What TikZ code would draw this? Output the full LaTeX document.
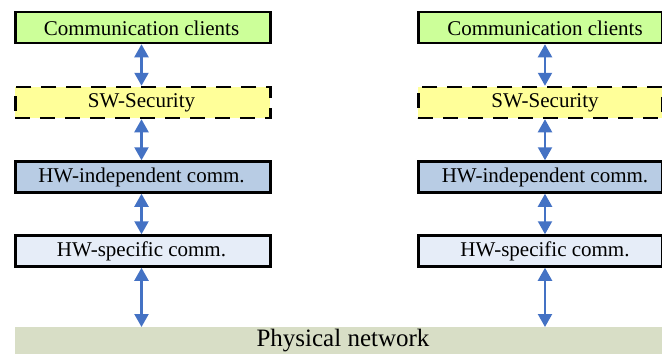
\documentclass[tikz,border=0pt]{standalone}
\usepackage{fontspec}
\setmainfont{Liberation Serif}
\usetikzlibrary{arrows.meta}
\definecolor{cgreen}{RGB}{204,255,153}
\definecolor{cyellow}{RGB}{255,255,153}
\definecolor{cblue}{RGB}{184,204,228}
\definecolor{clight}{RGB}{230,237,248}
\definecolor{cnet}{RGB}{216,222,198}
\definecolor{carrow}{RGB}{68,114,196}
\begin{document}
\begin{tikzpicture}[x=1pt,y=-1pt,
  layer/.style={draw=black,line width=2.5pt,minimum height=31pt,inner sep=0pt,anchor=west},
  dlayer/.style={layer,dash pattern=on 15pt off 10pt},
  lbl/.style={font=\fontsize{21}{25}\selectfont,inner sep=0pt},
  link/.style={carrow,line width=2.2pt,{Triangle[width=14pt,length=13pt]}-{Triangle[width=14pt,length=13pt]},shorten <=0pt,shorten >=0pt}]
\useasboundingbox (0,0) rectangle (662,354);
% left stack
\node[layer,fill=cgreen,minimum width=255pt] (l1) at (14,27.5) {};
\node[dlayer,fill=cyellow,minimum width=255pt] (l2) at (14,102.5) {};
\node[layer,fill=cblue,minimum width=255pt] (l3) at (14,177) {};
\node[layer,fill=clight,minimum width=255pt] (l4) at (14,251) {};
\node[lbl] (lt1) at (141.5,28) {Communication clients};
\node[lbl] (lt2) at (141.5,103) {SW-Security};
\node[lbl] (lt3) at (141.5,177.5) {HW-independent comm.};
\node[lbl] (lt4) at (141.5,251.5) {HW-specific comm.};
% right stack
\node[layer,fill=cgreen,minimum width=244pt] (r1) at (417,27.5) {};
\node[dlayer,fill=cyellow,minimum width=244pt] (r2) at (417,102.5) {};
\node[layer,fill=cblue,minimum width=244pt] (r3) at (417,177) {};
\node[layer,fill=clight,minimum width=244pt] (r4) at (417,251) {};
\node[lbl] (rt1) at (545,28) {Communication clients};
\node[lbl] (rt2) at (545,103) {SW-Security};
\node[lbl] (rt3) at (545,177.5) {HW-independent comm.};
\node[lbl] (rt4) at (545,251.5) {HW-specific comm.};
% physical network
\node[fill=cnet,minimum width=647pt,minimum height=27pt,inner sep=0pt,anchor=north west] (net) at (15,327) {};
\node[font=\fontsize{25}{29}\selectfont,inner sep=0pt] (nett) at (343,341) {Physical network};
% arrows left
\draw[link] (l1.south -| lt1) -- (l2.north -| lt1);
\draw[link] (l2.south -| lt1) -- (l3.north -| lt1);
\draw[link] (l3.south -| lt1) -- (l4.north -| lt1);
\draw[link] (l4.south -| lt1) -- (net.north -| lt1);
% arrows right
\draw[link] (r1.south -| rt1) -- (r2.north -| rt1);
\draw[link] (r2.south -| rt1) -- (r3.north -| rt1);
\draw[link] (r3.south -| rt1) -- (r4.north -| rt1);
\draw[link] (r4.south -| rt1) -- (net.north -| rt1);
\end{tikzpicture}
\end{document}
